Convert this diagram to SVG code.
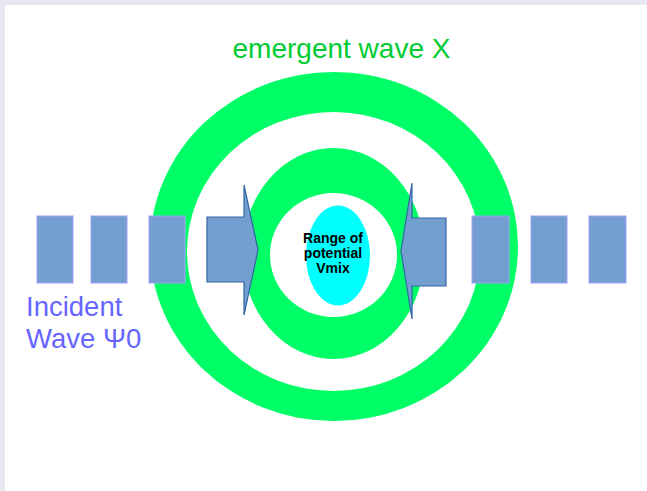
<svg xmlns="http://www.w3.org/2000/svg" width="647" height="491" viewBox="0 0 647 491">
<style>
.ring{fill:#00ff66}
.hole{fill:#ffffff}
.pulse{fill:#729fcf;stroke:#a0a0ff;stroke-width:1}
.arrow{fill:#729fcf;stroke:#3465a4;stroke-width:1.2;stroke-linejoin:miter}
.t{font-family:"Liberation Sans",Arial,sans-serif}
</style>
<rect x="0" y="0" width="647" height="491" fill="#e8e8f2"/>
<rect x="5" y="5" width="642" height="486" fill="#ffffff"/>
<g id="outer-ring">
<ellipse class="ring" cx="334" cy="246.5" rx="184" ry="174.5"/>
<ellipse class="hole" cx="333.5" cy="251.5" rx="146.5" ry="139.5"/>
</g>
<g id="middle-ring">
<ellipse class="ring" cx="333.5" cy="253.5" rx="91" ry="105.5"/>
<ellipse class="hole" cx="333.5" cy="255" rx="63.5" ry="62"/>
</g>
<g id="potential">
<ellipse cx="338" cy="255.5" rx="32" ry="50" fill="#00ffff"/>
<text class="t" x="333" y="243" font-size="14" font-weight="bold" text-anchor="middle" fill="#000000">Range of</text>
<text class="t" x="333" y="258" font-size="14" font-weight="bold" text-anchor="middle" fill="#000000">potential</text>
<text class="t" x="333" y="273" font-size="14" font-weight="bold" text-anchor="middle" fill="#000000">Vmix</text>
</g>
<g id="incident-pulses">
<rect class="pulse" x="37" y="216" width="36" height="67"/>
<rect class="pulse" x="91" y="216" width="36" height="67"/>
<rect class="pulse" x="149" y="216" width="36" height="67"/>
<rect class="pulse" x="472" y="216" width="37" height="67"/>
<rect class="pulse" x="531" y="216" width="36" height="67"/>
<rect class="pulse" x="589" y="216" width="37" height="67"/>
</g>
<g id="connectors">
<path class="arrow" d="M207,217 L244,217 L244,185 L258,250 L244,315 L244,282 L207,282 Z"/>
<path class="arrow" d="M446,218 L412,218 L412,183 L401,251 L412,319 L412,286 L446,286 Z"/>
</g>
<g id="labels">
<text class="t" x="341.5" y="58" font-size="28" text-anchor="middle" fill="#00cc33">emergent wave X</text>
<text class="t" x="26" y="316" font-size="27.5" fill="#6666ff">Incident</text>
<text class="t" x="26" y="348" font-size="27.5" fill="#6666ff">Wave Ψ0</text>
</g>
</svg>
